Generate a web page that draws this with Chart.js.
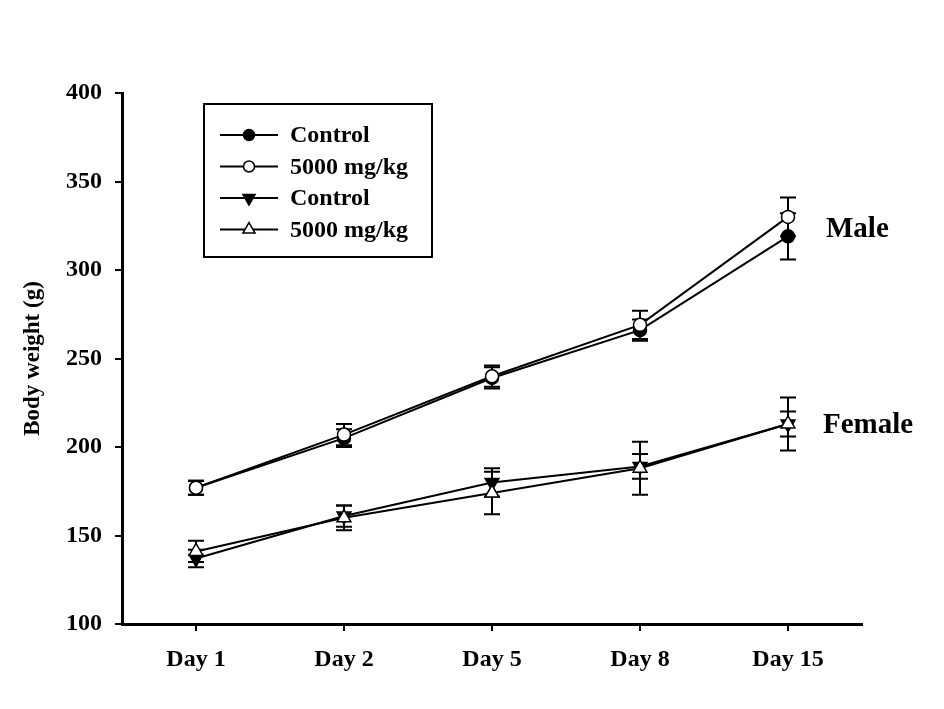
<!DOCTYPE html>
<html lang="en">
<head>
<meta charset="UTF-8">
<title>Body weight</title>
<script src="https://cdn.jsdelivr.net/npm/chart.js"></script>
<style>
  html, body { margin: 0; padding: 0; background: #fff; }
</style>
</head>
<body>
<canvas id="grafico" width="944" height="709"></canvas>
<script>
// datos
const days = ['Day 1', 'Day 2', 'Day 5', 'Day 8', 'Day 15'];
const maleControl = [177, 205, 239, 266, 319];
const maleControlErr = [4, 5, 6, 6, 13];
const male5000 = [177, 207, 240, 269, 330];
const male5000Err = [4, 6, 6, 8, 11];
const femaleControl = [137, 161, 180, 189, 213];
const femaleControlErr = [5, 6, 8, 7, 7];
const female5000 = [141, 160, 174, 188, 213];
const female5000Err = [6, 7, 12, 15, 15];
const yTicks = [100, 150, 200, 250, 300, 350, 400];
const groupLabels = [
    { text: 'Male', value: 323, dx: 38 },
    { text: 'Female', value: 212, dx: 35 }
];

const serif = "'Liberation Serif', 'Times New Roman', serif";
Chart.defaults.font.family = serif;
Chart.defaults.color = '#000';

// barras de error (detras de los puntos)
const errorBars = {
    id: 'errorBars',
    beforeDatasetsDraw(chart) {
        const ctx = chart.ctx;
        const xs = chart.scales.x, ys = chart.scales.y;
        ctx.save();
        ctx.strokeStyle = '#000';
        ctx.lineWidth = 2;
        chart.data.datasets.forEach(ds => {
            ds.data.forEach((v, i) => {
                const px = xs.getPixelForValue(i);
                const top = ys.getPixelForValue(v + ds.errors[i]);
                const bot = ys.getPixelForValue(v - ds.errors[i]);
                ctx.beginPath();
                ctx.moveTo(px, top); ctx.lineTo(px, bot);
                ctx.moveTo(px - 8, top); ctx.lineTo(px + 8, top);
                ctx.moveTo(px - 8, bot); ctx.lineTo(px + 8, bot);
                ctx.stroke();
            });
        });
        ctx.restore();
    }
};

// leyenda con recuadro y etiquetas Male / Female
const boxLegend = {
    id: 'boxLegend',
    afterDraw(chart) {
        const ctx = chart.ctx;
        const area = chart.chartArea;
        const left = area.left + 82, top = area.top + 11;
        ctx.save();
        ctx.strokeStyle = '#000';
        ctx.lineWidth = 2;
        ctx.strokeRect(left, top, 228, 153);
        ctx.font = 'bold 24px ' + serif;
        ctx.textBaseline = 'middle';
        ctx.textAlign = 'left';
        chart.data.datasets.forEach((ds, i) => {
            const y = top + 31 + i * 31.5;
            ctx.strokeStyle = '#000';
            ctx.lineWidth = 2;
            ctx.beginPath();
            ctx.moveTo(left + 16, y); ctx.lineTo(left + 74, y);
            ctx.stroke();
            ctx.fillStyle = ds.pointBackgroundColor;
            ctx.lineWidth = 1.5;
            Chart.helpers.drawPoint(ctx, {
                pointStyle: ds.pointStyle,
                rotation: ds.pointRotation || 0,
                radius: ds.pointStyle === 'circle' ? 5.5 : 7,
                borderWidth: 1.5
            }, left + 45, y);
            ctx.fillStyle = '#000';
            ctx.fillText(ds.label, left + 86, y + 1);
        });
        const xs = chart.scales.x, ys = chart.scales.y;
        ctx.font = 'bold 29px ' + serif;
        groupLabels.forEach(g => {
            ctx.fillText(g.text, xs.getPixelForValue(days.length - 1) + g.dx, ys.getPixelForValue(g.value));
        });
        ctx.restore();
    }
};

function serie(label, data, errors, style, fill, rot, radius, order) {
    return {
        label: label,
        data: data,
        errors: errors,
        order: order,
        borderColor: '#000',
        borderWidth: 2,
        pointStyle: style,
        pointRotation: rot,
        pointRadius: radius,
        pointBackgroundColor: fill,
        pointBorderColor: '#000',
        pointBorderWidth: 1.5,
        tension: 0,
        fill: false
    };
}

new Chart(document.getElementById('grafico').getContext('2d'), {
    type: 'line',
    data: {
        labels: days,
        datasets: [
            serie('Control', maleControl, maleControlErr, 'circle', '#000', 0, 6.5, 2),
            serie('5000 mg/kg', male5000, male5000Err, 'circle', '#fff', 0, 6.5, 1),
            serie('Control', femaleControl, femaleControlErr, 'triangle', '#000', 180, 8, 2),
            serie('5000 mg/kg', female5000, female5000Err, 'triangle', '#fff', 0, 8, 1)
        ]
    },
    options: {
        responsive: false,
        animation: false,
        layout: { padding: { top: 93, right: 82, bottom: 0, left: 0 } },
        plugins: {
            legend: { display: false },
            tooltip: { enabled: false }
        },
        scales: {
            x: {
                offset: true,
                afterFit: s => { s.height = 85; },
                grid: { display: true, drawOnChartArea: false, tickLength: 7, tickColor: '#000', lineWidth: 2 },
                border: { display: true, color: '#000', width: 3 },
                ticks: { font: { size: 24, weight: 'bold' }, padding: 14, color: '#000' }
            },
            y: {
                min: 100,
                max: 400,
                afterFit: s => { s.width = 122; },
                afterBuildTicks: s => { s.ticks = yTicks.map(v => ({ value: v })); },
                grid: { display: true, drawOnChartArea: false, tickLength: 7, tickColor: '#000', lineWidth: 2 },
                border: { display: true, color: '#000', width: 3 },
                ticks: { font: { size: 24, weight: 'bold' }, padding: 13, color: '#000' },
                title: {
                    display: true,
                    text: 'Body weight (g)',
                    font: { size: 23, weight: 'bold' },
                    padding: { top: 19, bottom: 0 }
                }
            }
        }
    },
    plugins: [errorBars, boxLegend]
});
</script>
</body>
</html>
